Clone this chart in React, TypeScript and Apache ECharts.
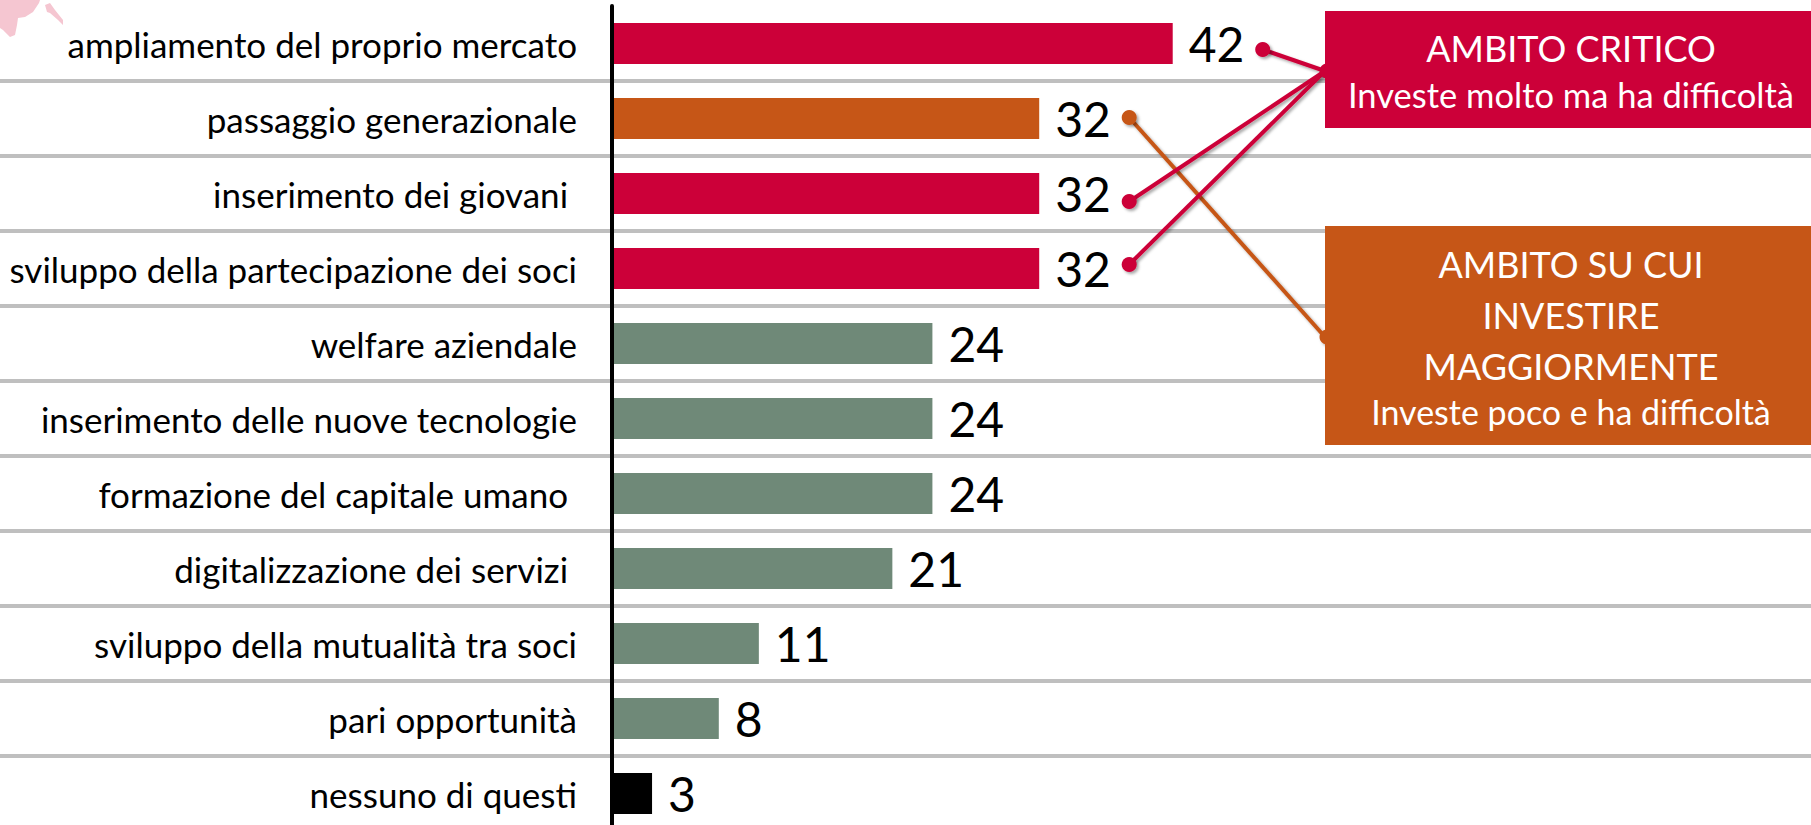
import React, { useEffect, useRef } from 'react';
import * as echarts from 'echarts';

const categories = [
  'ampliamento del proprio mercato',
  'passaggio generazionale',
  'inserimento dei giovani ',
  'sviluppo della partecipazione dei soci',
  'welfare aziendale',
  'inserimento delle nuove tecnologie',
  'formazione del capitale umano ',
  'digitalizzazione dei servizi ',
  'sviluppo della mutualità tra soci',
  'pari opportunità',
  'nessuno di questi',
];
const values = [42, 32, 32, 32, 24, 24, 24, 21, 11, 8, 3];
const groups = ['critico', 'investire', 'critico', 'critico', 'altro', 'altro', 'altro', 'altro', 'altro', 'altro', 'nessuno'];

const criticoTitle = ['AMBITO CRITICO'];
const criticoSub = 'Investe molto ma ha difficoltà';
const investireTitle = ['AMBITO SU CUI', 'INVESTIRE', 'MAGGIORMENTE'];
const investireSub = 'Investe poco e ha difficoltà';

const criticoRows = [0, 2, 3];
const criticoDy = [6, 8, -4];
const investireRows = [1];
const investireDy = [-1];

const COLORS: Record<string, string> = {
  critico: '#CC0039',
  investire: '#C65617',
  altro: '#6F8978',
  nessuno: '#000000',
};

const FONT = 'Lato, "Liberation Sans", sans-serif';

export default function App() {
  const ref = useRef<HTMLDivElement>(null);
  useEffect(() => {
    const chart = echarts.init(ref.current!, null, { renderer: 'svg' });
    chart.setOption({
      animation: false,
      backgroundColor: '#ffffff',
      grid: [
        { left: 612, right: 0, top: 6, height: 825, containLabel: false, outerBoundsMode: 'none' },
        { left: 0, right: 0, top: 6, height: 825, containLabel: false, outerBoundsMode: 'none' },
      ],
      xAxis: [
        { type: 'value', gridIndex: 0, min: 0, max: 89.81, show: false, splitLine: { show: false } },
        { type: 'value', gridIndex: 1, min: 0, max: 1, show: false, splitLine: { show: false } },
      ],
      yAxis: [
        {
          type: 'category',
          gridIndex: 0,
          inverse: true,
          data: categories,
          z: 5,
          axisLine: { show: true, lineStyle: { color: '#000', width: 4 } },
          axisTick: { show: false },
          axisLabel: {
            margin: 35,
            fontSize: 35,
            fontFamily: FONT,
            color: '#000',
          },
          splitLine: { show: false },
        },
        {
          type: 'category',
          gridIndex: 1,
          inverse: true,
          data: categories,
          z: 0,
          axisLine: { show: false },
          axisTick: { show: false },
          axisLabel: { show: false },
          splitLine: {
            show: true,
            interval: (i: number) => i > 0,
            lineStyle: { color: '#BFBFBF', width: 4 },
          },
        },
      ],
      series: [
        {
          type: 'bar',
          xAxisIndex: 0,
          yAxisIndex: 0,
          barWidth: 41,
          z: 3,
          data: values.map((v, i) => ({ value: v, itemStyle: { color: COLORS[groups[i]] } })),
          label: {
            show: true,
            position: 'right',
            distance: 16,
            fontSize: 48,
            fontFamily: FONT,
            color: '#000',
          },
        },
      ],
    });

    const boxCritico = { x: 1325, y: 11, w: 486, h: 117, anchorY: 71 };
    const boxInvest = { x: 1325, y: 226, w: 486, h: 219, anchorY: 337 };
    const shadow = { shadowColor: 'rgba(0,0,0,0.35)', shadowBlur: 3, shadowOffsetX: 2, shadowOffsetY: 2 };
    const graphics: any[] = [];

    graphics.push({
      type: 'polygon', z: 1,
      shape: { points: [[0, 0], [40, 0], [39, 3], [33, 12], [25, 17], [18, 18], [17, 25], [15, 35], [10, 37], [3, 30], [0, 28]] },
      style: { fill: '#F5C6D1' },
    });
    graphics.push({
      type: 'polygon', z: 1,
      shape: { points: [[45, 5], [50, 3], [55, 10], [63, 20], [63, 25], [58, 20], [50, 13], [47, 12]] },
      style: { fill: '#F5C6D1' },
    });

    const connect = (rows: number[], dys: number[], color: string, ax: number, ay: number) => {
      rows.forEach((r, k) => {
        const p = chart.convertToPixel({ seriesIndex: 0 }, [values[r], r]) as number[];
        const x = p[0] + 90;
        const y = p[1] + dys[k];
        graphics.push({
          type: 'line', z: 50,
          shape: { x1: x, y1: y, x2: ax, y2: ay },
          style: { stroke: color, lineWidth: 4, ...shadow },
        });
        graphics.push({
          type: 'circle', z: 51,
          shape: { cx: x, cy: y, r: 7.5 },
          style: { fill: color, ...shadow },
        });
      });
      graphics.push({
        type: 'circle', z: 51,
        shape: { cx: ax + 2, cy: ay, r: 7.5 },
        style: { fill: color, ...shadow },
      });
    };

    connect(investireRows, investireDy, COLORS.investire, boxInvest.x, boxInvest.anchorY);
    connect(criticoRows, criticoDy, COLORS.critico, boxCritico.x, boxCritico.anchorY);

    graphics.push({
      type: 'rect', z: 60,
      shape: { x: boxCritico.x, y: boxCritico.y, width: boxCritico.w, height: boxCritico.h },
      style: { fill: COLORS.critico },
    });
    graphics.push({
      type: 'rect', z: 60,
      shape: { x: boxInvest.x, y: boxInvest.y, width: boxInvest.w, height: boxInvest.h },
      style: { fill: COLORS.investire },
    });

    const cx = 1571;
    criticoTitle.forEach((t, i) => {
      graphics.push({
        type: 'text', z: 70,
        style: { text: t, x: cx, y: 48 + i * 51, fill: '#fff', fontSize: 36, fontFamily: FONT, textAlign: 'center', textVerticalAlign: 'middle' },
      });
    });
    graphics.push({
      type: 'text', z: 70,
      style: { text: criticoSub, x: cx, y: 94, fill: '#fff', fontSize: 34.5, fontFamily: FONT, textAlign: 'center', textVerticalAlign: 'middle' },
    });
    investireTitle.forEach((t, i) => {
      graphics.push({
        type: 'text', z: 70,
        style: { text: t, x: cx, y: 264 + i * 51, fill: '#fff', fontSize: 36, fontFamily: FONT, textAlign: 'center', textVerticalAlign: 'middle' },
      });
    });
    graphics.push({
      type: 'text', z: 70,
      style: { text: investireSub, x: cx, y: 411, fill: '#fff', fontSize: 34, fontFamily: FONT, textAlign: 'center', textVerticalAlign: 'middle' },
    });

    chart.setOption({ graphic: graphics });
    return () => chart.dispose();
  }, []);
  return <div ref={ref} style={{ position: 'absolute', left: 0, top: 0, width: 1811, height: 825 }} />;
}
